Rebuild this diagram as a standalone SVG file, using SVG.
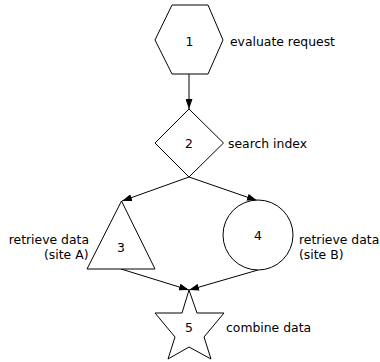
<svg xmlns="http://www.w3.org/2000/svg" width="380" height="362" viewBox="0 0 380 362">
<defs>
<marker id="arr" markerUnits="userSpaceOnUse" markerWidth="10" markerHeight="7" refX="10" refY="3.5" orient="auto">
<path d="M0,0 L10,3.5 L0,7 z" fill="#000"/>
</marker>
<style>
.shape{fill:#fff;stroke:#000;stroke-width:1}
.edge{fill:none;stroke:#000;stroke-width:1;marker-end:url(#arr)}
text{font-family:"DejaVu Sans",Verdana,sans-serif;font-size:12.4px;fill:#000}
.num{text-anchor:middle}
</style>
</defs>
<rect width="380" height="362" fill="#fff"/>
<g id="edges">
<line class="edge" x1="189" y1="74" x2="189" y2="109"/>
<line class="edge" x1="189" y1="177" x2="122" y2="201"/>
<line class="edge" x1="189" y1="177" x2="257" y2="200.5"/>
<line class="edge" x1="121" y1="269" x2="189" y2="290"/>
<line class="edge" x1="258" y1="270" x2="189" y2="290"/>
</g>
<g id="node1">
<polygon class="shape" points="172,5 208,5 223,40 208,74 172,74 155,40"/>
<text class="num" x="189.5" y="46">1</text>
<text x="230" y="46">evaluate request</text>
</g>
<g id="node2">
<polygon class="shape" points="189,109 223.5,143 189,177 155,143"/>
<text class="num" x="189" y="148">2</text>
<text x="228" y="148">search index</text>
</g>
<g id="node3">
<polygon class="shape" points="121.5,201 155,269 87,269"/>
<text class="num" x="121" y="251.5">3</text>
<text x="89" y="244" text-anchor="end">retrieve data</text>
<text x="88.5" y="259" text-anchor="end">(site A)</text>
</g>
<g id="node4">
<circle class="shape" cx="258" cy="235" r="35"/>
<text class="num" x="258" y="240">4</text>
<text x="299" y="244">retrieve data</text>
<text x="299" y="259">(site B)</text>
</g>
<g id="node5">
<polygon class="shape" points="189,290 197,313 224,313 204,337 211,359 189,347 168,359 175,337 155,313 182,313"/>
<text class="num" x="189" y="331.5">5</text>
<text x="226" y="331.5">combine data</text>
</g>
</svg>
